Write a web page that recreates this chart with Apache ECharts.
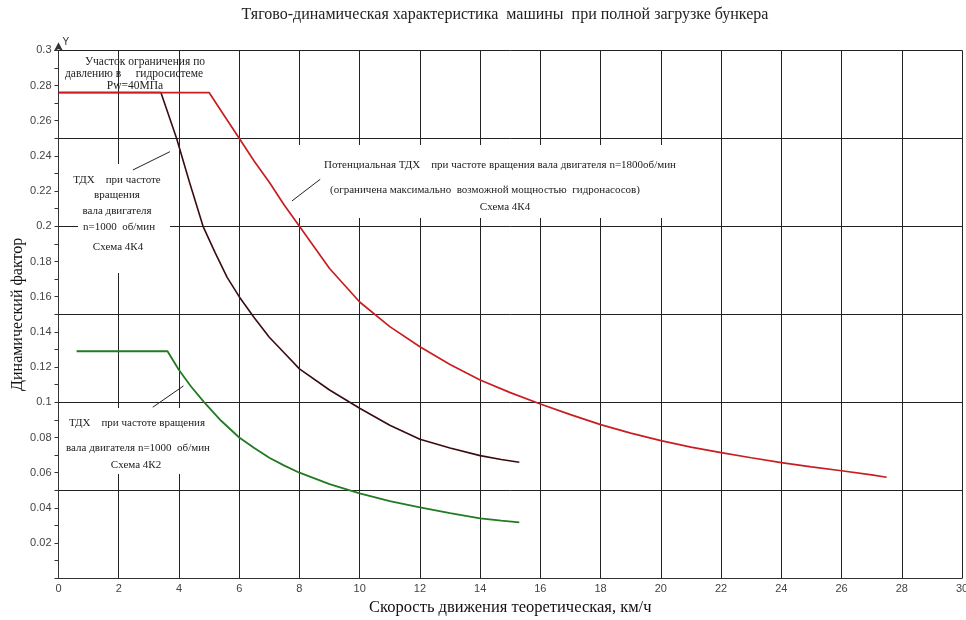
<!DOCTYPE html>
<html>
<head>
<meta charset="utf-8">
<script src="https://cdn.jsdelivr.net/npm/echarts@6/dist/echarts.min.js"></script>
<style>
  html, body { margin: 0; padding: 0; background: #fff; }
  #main { width: 966px; height: 620px; }
</style>
</head>
<body>
<div id="main"></div>
<script>
// ТДХ машины: скорость (км/ч) -> динамический фактор
var speedRed = [0, 5.0, 5.5, 6.0, 6.5, 7.0, 7.5, 8.0, 9.0, 10.0, 11.0, 12.0, 13.0, 14.0, 15.0, 16.0, 17.0, 18.0, 19.0, 20.0, 21.0, 22.0, 23.0, 24.0, 25.0, 26.0, 27.0, 27.5];
var dynRed = [0.276, 0.276, 0.263, 0.25, 0.237, 0.225, 0.212, 0.2, 0.176, 0.157, 0.143, 0.1316, 0.1215, 0.1127, 0.1055, 0.099, 0.093, 0.0873, 0.0825, 0.0782, 0.0745, 0.0714, 0.0685, 0.0657, 0.0633, 0.0611, 0.0588, 0.0574];

var speedDark = [0, 3.4, 3.92, 4.35, 4.8, 5.2, 5.6, 6.0, 6.5, 7.0, 7.5, 8.0, 9.0, 10.0, 11.0, 12.0, 13.0, 14.0, 14.7, 15.3];
var dynDark = [0.276, 0.276, 0.25, 0.225, 0.2, 0.185, 0.171, 0.16, 0.148, 0.137, 0.128, 0.119, 0.107, 0.0966, 0.087, 0.079, 0.074, 0.0697, 0.0675, 0.0659];

var speedGreen = [0.6, 3.62, 4.0, 4.4, 4.84, 5.4, 6.0, 6.5, 7.0, 7.5, 8.0, 9.0, 10.0, 11.0, 12.0, 13.0, 14.0, 14.7, 15.3];
var dynGreen = [0.129, 0.129, 0.1184, 0.109, 0.1, 0.0895, 0.08, 0.074, 0.0685, 0.064, 0.06, 0.0535, 0.0483, 0.0438, 0.0403, 0.037, 0.0341, 0.0328, 0.0318];

var xMin = 0, xMax = 30, xStep = 2;
var yMin = 0, yMax = 0.3, yMinorStep = 0.01, yGridStep = 0.05;

function zip(xs, ys) {
  return xs.map(function (x, i) { return [x, ys[i]]; });
}

var serif = '"Liberation Serif", "DejaVu Serif", serif';
var sans = '"Liberation Sans", Arial, sans-serif';

function note(text, x, y, size) {
  return {
    type: 'text', z: 5,
    style: {
      text: text, x: x, y: y,
      textAlign: 'center', textVerticalAlign: 'middle',
      font: (size || 11) + 'px ' + serif, fill: '#222'
    }
  };
}
function whiteBox(x, y, w, h) {
  return { type: 'rect', z: 1, silent: true, shape: { x: x, y: y, width: w, height: h }, style: { fill: '#fff' } };
}
function leader(a, b) {
  return [{ coord: a }, { coord: b }];
}
var leaderStyle = { color: '#222', width: 1, type: 'solid' };

var chart = echarts.init(document.getElementById('main'));

var option = {
  animation: false,
  backgroundColor: '#fff',
  title: {
    text: 'Тягово-динамическая характеристика  машины  при полной загрузке бункера',
    left: 500, top: 2, textAlign: 'center',
    textStyle: { fontFamily: serif, fontSize: 16, fontWeight: 'normal', color: '#222' }
  },
  grid: { left: 58.5, right: 4, top: 50.3, bottom: 41.7, containLabel: false, outerBoundsMode: 'none' },
  xAxis: {
    type: 'value', min: xMin, max: xMax, interval: xStep,
    name: 'Скорость движения теоретическая, км/ч',
    nameLocation: 'middle', nameGap: 21,
    nameTextStyle: { fontFamily: serif, fontSize: 16.5, color: '#111' },
    axisLine: { lineStyle: { color: '#333', width: 1 } },
    axisTick: { show: false },
    axisLabel: { fontFamily: sans, fontSize: 11, color: '#444', margin: 5 },
    splitLine: { show: true, lineStyle: { color: '#222', width: 1 } }
  },
  yAxis: [{
    type: 'value', min: yMin, max: yMax, interval: yMinorStep,
    name: 'Динамический фактор',
    nameLocation: 'middle', nameGap: 33, nameMoveOverlap: false,
    nameTextStyle: { fontFamily: serif, fontSize: 16, color: '#111' },
    axisLine: { show: true, lineStyle: { color: '#333', width: 1 }, symbol: ['none', 'arrow'], symbolSize: [7, 9], symbolOffset: [0, 8] },
    axisTick: { show: true, length: 4, lineStyle: { color: '#333' } },
    axisLabel: {
      fontFamily: sans, fontSize: 11, color: '#444', margin: 7,
      formatter: function (v) {
        var k = Math.round(v * 100);
        if (k === 0 || k % 2 !== 0) return '';
        return String(parseFloat(v.toFixed(2)));
      }
    },
    splitLine: { show: false }
  }, {
    type: 'value', min: yMin, max: yMax, interval: yGridStep, position: 'left',
    name: 'Y', nameLocation: 'end', nameGap: 3,
    nameTextStyle: { fontFamily: sans, fontSize: 10, color: '#333', align: 'left', padding: [0, 0, 0, 4] },
    axisLine: { show: false }, axisTick: { show: false }, axisLabel: { show: false },
    splitLine: { show: true, lineStyle: { color: '#222', width: 1 } }
  }],
  series: [{
    name: 'n=1000 4K4', type: 'line', yAxisIndex: 0, z: 3,
    data: zip(speedDark, dynDark), showSymbol: false,
    lineStyle: { color: '#3a0c12', width: 1.6 },
    markLine: { silent: true, symbol: ['none', 'none'], label: { show: false }, lineStyle: leaderStyle,
      data: [leader([2.47, 0.232], [3.7, 0.2424])] }
  }, {
    name: 'n=1800 4K4', type: 'line', yAxisIndex: 0, z: 4,
    data: zip(speedRed, dynRed), showSymbol: false,
    lineStyle: { color: '#c81e22', width: 1.7 },
    markLine: { silent: true, symbol: ['none', 'none'], label: { show: false }, lineStyle: leaderStyle,
      data: [leader([7.75, 0.2144], [8.69, 0.2267])] }
  }, {
    name: 'n=1000 4K2', type: 'line', yAxisIndex: 0, z: 3,
    data: zip(speedGreen, dynGreen), showSymbol: false,
    lineStyle: { color: '#237a23', width: 1.8 },
    markLine: { silent: true, symbol: ['none', 'none'], label: { show: false }, lineStyle: leaderStyle,
      data: [leader([3.13, 0.0972], [4.15, 0.1093])] }
  }],
  graphic: [
    whiteBox(78, 164, 92, 109),
    whiteBox(292, 145, 424, 73),
    whiteBox(63, 408, 150, 66),
    note('Участок ограничения по', 145, 62, 11.5),
    note('давлению в     гидросистеме', 134, 74, 11.5),
    note('Pw=40МПа', 135, 86, 11.5),
    note('ТДХ    при частоте', 117, 180),
    note('вращения', 117, 195),
    note('вала двигателя', 117, 211),
    note('n=1000  об/мин', 119, 227),
    note('Схема 4К4', 118, 247),
    note('Потенциальная ТДХ    при частоте вращения вала двигателя n=1800об/мин', 500, 165),
    note('(ограничена максимально  возможной мощностью  гидронасосов)', 485, 190),
    note('Схема 4К4', 505, 207),
    note('ТДХ    при частоте вращения', 137, 423),
    note('вала двигателя n=1000  об/мин', 138, 448),
    note('Схема 4К2', 136, 465)
  ]
};

chart.setOption(option);
</script>
</body>
</html>
